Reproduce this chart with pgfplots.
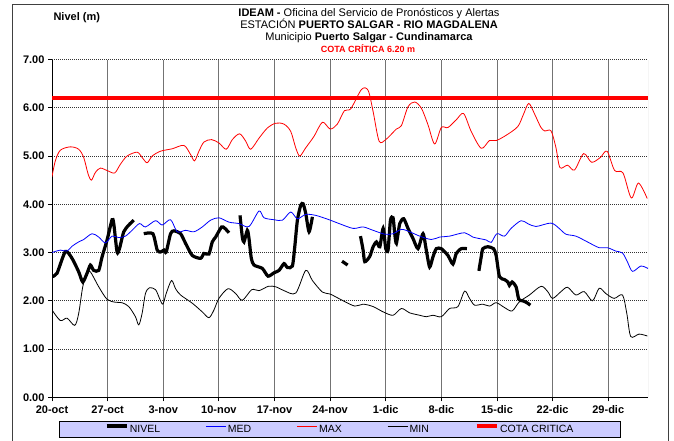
\documentclass[border=0pt]{standalone}
\usepackage{pgfplots}
\pgfplotsset{compat=1.18}
\usepackage{fontspec}
\setmainfont{Liberation Sans}
\definecolor{legbg}{RGB}{204,204,255}
\definecolor{myred}{RGB}{255,0,0}
\definecolor{myblue}{RGB}{0,0,255}
\begin{document}
\begin{tikzpicture}[x=1pt,y=1pt]
\useasboundingbox (0,0) rectangle (674,441);
\draw[black!75, line width=0.9pt] (12,-2) -- (12,437) -- (668,437) -- (668,-2);
\node[font=\fontsize{11}{13}\selectfont\bfseries, anchor=base west] at (50,441-20.8) {Nivel (m)};
\node[font=\fontsize{11}{13}\selectfont, anchor=base] at (369,441-17) {\textbf{IDEAM -} Oficina del Servicio de Pronósticos y Alertas};
\node[font=\fontsize{11}{13}\selectfont, anchor=base] at (369,441-28.5) {ESTACIÓN \textbf{PUERTO SALGAR - RIO MAGDALENA}};
\node[font=\fontsize{11}{13}\selectfont, anchor=base] at (369,441-41) {Municipio \textbf{Puerto Salgar - Cundinamarca}};
\node[font=\fontsize{9}{11}\selectfont\bfseries, text=myred, anchor=base] at (368,441-52.5) {COTA CRÍTICA 6.20 m};
\begin{axis}[
 at={(52pt,43.7pt)}, anchor=south west,
 width=596pt, height=337.8pt, scale only axis,
 xmin=0, xmax=75, ymin=0, ymax=7,
 axis x line*=bottom, axis y line*=left,
 axis line style={-, black, line width=0.8pt},
 xtick={0,7,...,70},
 xticklabels={20-oct,27-oct,3-nov,10-nov,17-nov,24-nov,1-dic,8-dic,15-dic,22-dic,29-dic},
 ytick={0,1,...,7},
 yticklabels={0.00,1.00,2.00,3.00,4.00,5.00,6.00,7.00},
 tick align=outside, major tick length=4pt,
 tick style={black, line width=0.8pt},
 ticklabel style={font=\fontsize{11}{12}\selectfont\bfseries},
 xticklabel style={yshift=-1pt},
 xmajorgrids, ymajorgrids,
 x grid style={black!55, line width=0.8pt},
 y grid style={black!80, line width=0.6pt, dash pattern=on 1pt off 1pt},
 legend columns=5,
 legend style={at={(0.4824,-0.0944)}, anchor=center, fill=legbg, draw=black, line width=0.8pt,
   font=\fontsize{10.5}{11}\selectfont, inner xsep=46pt, inner ysep=2.5pt,
   nodes={inner xsep=0.5pt, inner ysep=0.5pt},
   /tikz/every odd column/.append style={column sep=1pt},
   /tikz/every even column/.append style={column sep=45pt}},
 legend image code/.code={\draw[#1] (0pt,0.35em) -- (20pt,0.35em);},
]
% NIVEL
\addplot[black, line width=3.2pt, smooth, tension=0.4] coordinates {
(0,2.50)(0.63,2.57)(1.68,3.02)(2.52,2.88)(3.36,2.6)(3.87,2.39)(4.41,2.57)(4.83,2.74)(5.25,2.63)(5.88,2.63)(6.3,2.91)(6.93,3.26)(7.56,3.68)(7.77,3.6)(8.19,3.01)(8.49,3.08)(9.03,3.43)(9.66,3.57)(10.29,3.67)};
\addlegendentry{NIVEL}
\addplot[black, line width=3.2pt, smooth, tension=0.4, forget plot] coordinates {
(11.55,3.39)(12.69,3.39)(13.24,3.05)(13.66,3.01)(14.08,3.05)(14.37,3.01)(14.92,3.39)(15.34,3.45)(16.18,3.39)(16.81,3.19)(17.65,2.94)(18.7,2.88)(19.12,2.98)(19.75,2.97)(20.17,3.22)(20.59,3.32)(21.34,3.53)(21.76,3.5)(22.27,3.41)};
\addplot[black, line width=3.2pt, smooth, tension=0.4, forget plot] coordinates {
(23.66,3.77)(23.95,3.32)(24.16,3.22)(24.58,3.46)(24.79,3.29)(25.08,2.88)(25.42,2.74)(26.47,2.67)(27.18,2.51)(27.94,2.58)(28.57,2.63)(29.2,2.77)(29.62,2.69)(30.25,2.72)(30.55,3.12)(30.88,3.67)(31.3,3.98)(31.6,4.01)(31.93,3.81)(32.35,3.43)(32.77,3.74)};
\addplot[black, line width=3.2pt, forget plot] coordinates {(36.5,2.82)(37.2,2.74)};
\addplot[black, line width=3.2pt, smooth, tension=0.4, forget plot] coordinates {
(38.82,3.34)(39.15,3.05)(39.36,2.81)(39.99,2.92)(40.41,3.12)(40.83,3.22)(41.25,3.12)(41.67,3.5)(42,3.08)(42.29,3.05)(42.59,3.67)(42.92,3.72)(43.13,3.39)(43.34,3.19)(43.76,3.6)(44.26,3.70)(44.8,3.5)(45.43,3.29)(46.06,3.08)(46.69,3.39)(47.1,3.05)(47.52,2.70)(47.94,2.91)(48.36,3.08)(48.99,3.08)(49.82,2.94)(50.45,2.76)(50.87,2.98)(51.5,3.08)(52.21,3.08)};
\addplot[black, line width=3.2pt, smooth, tension=0.4, forget plot] coordinates {
(53.72,2.62)(54.01,2.91)(54.22,3.08)(54.85,3.12)(55.56,3.08)(55.89,2.94)(56.31,2.50)(56.94,2.44)(57.36,2.39)(57.56,2.32)(57.9,2.39)(58.4,2.29)(58.74,2.03)(59.24,2.00)(59.66,1.97)(60.2,1.91)};
% MED
\addplot[myblue, line width=0.8pt, smooth] coordinates {
(0,3.00)(1.05,3.05)(1.89,3.03)(2.52,3.13)(3.36,3.22)(3.99,3.27)(5.04,3.39)(5.88,3.32)(6.72,3.2)(7.56,3.34)(8.4,3.31)(9.24,3.34)(10.08,3.46)(11.01,3.6)(11.76,3.53)(13.03,3.66)(13.87,3.57)(14.92,3.68)(15.76,3.43)(16.81,3.46)(17.86,3.43)(18.91,3.53)(19.96,3.67)(21.01,3.72)(22.27,3.63)(23.53,3.6)(24.79,3.54)(26.05,3.86)(26.68,3.72)(27.94,3.68)(28.99,3.67)(30.04,3.84)(30.88,3.70)(31.93,3.79)(33.19,3.77)(34.87,3.68)(36.13,3.6)(37.9,3.5)(39.15,3.53)(40.41,3.46)(41.87,3.38)(42.92,3.39)(43.97,3.48)(45.01,3.43)(46.27,3.34)(47.73,3.27)(48.78,3.32)(50.03,3.34)(51.92,3.41)(52.96,3.32)(54.64,3.26)(55.27,3.21)(55.98,3.39)(56.94,3.34)(57.77,3.5)(59.02,3.66)(59.86,3.6)(60.9,3.54)(62.79,3.61)(63.82,3.5)(64.67,3.38)(65.92,3.34)(67.38,3.22)(68.85,3.1)(69.9,3.1)(70.95,3.03)(71.79,2.99)(72.4,2.81)(73.05,2.61)(74.1,2.72)(75,2.67)};
\addlegendentry{MED}
% MAX
\addplot[myred, line width=0.8pt, smooth] coordinates {
(0,4.57)(0.42,4.9)(1.05,5.12)(2.31,5.19)(3.36,5.14)(3.99,4.97)(4.54,4.63)(4.96,4.5)(5.46,4.66)(6.09,4.75)(7.06,4.69)(7.9,4.65)(8.61,4.83)(9.45,5.0)(10.71,5.08)(11.34,4.97)(11.97,4.86)(12.61,5.0)(13.66,5.1)(15.13,5.15)(16.6,5.22)(17.44,5.03)(17.94,4.9)(18.49,5.1)(19.12,5.29)(20.08,5.34)(21.01,5.27)(21.93,5.14)(22.69,5.34)(23.61,5.46)(24.37,5.31)(25.0,5.14)(26.05,5.37)(27.1,5.58)(28.15,5.68)(29.2,5.66)(30.04,5.51)(30.67,5.17)(31.18,5.0)(31.93,5.17)(32.98,5.41)(34.03,5.70)(35.0,5.56)(35.9,5.66)(36.8,5.94)(37.6,5.98)(38.95,6.38)(39.78,6.36)(40.41,5.92)(41.16,5.31)(42,5.34)(43.34,5.56)(43.97,5.63)(44.8,6.02)(45.64,6.12)(46.48,5.99)(47.31,5.65)(48.15,5.25)(48.99,5.59)(49.82,5.59)(50.87,5.75)(51.79,5.88)(52.75,5.51)(54.01,5.16)(55.05,5.32)(55.89,5.32)(57.15,5.43)(58.61,5.61)(59.32,5.86)(59.99,6.09)(60.7,5.88)(61.5,5.6)(62.0,5.52)(62.8,5.52)(63.42,5.17)(63.92,4.76)(64.88,4.81)(65.75,4.71)(66.9,5.05)(67.9,4.87)(69.0,4.97)(69.85,5.1)(70.8,4.7)(71.85,4.65)(72.9,4.13)(73.8,4.44)(74.9,4.12)};
\addlegendentry{MAX}
% MIN
\addplot[black, line width=0.8pt, smooth] coordinates {
(0,1.81)(1.05,1.59)(1.89,1.64)(2.86,1.49)(3.36,1.74)(3.87,2.29)(4.41,2.56)(4.83,2.6)(5.88,2.29)(6.93,2.03)(7.98,1.97)(8.82,1.96)(9.66,1.88)(10.5,1.67)(10.92,1.5)(11.34,1.74)(11.76,2.15)(12.27,2.27)(13.03,2.23)(13.53,2.05)(13.95,1.93)(14.37,2.15)(15.04,2.42)(15.55,2.25)(16.18,2.12)(17.65,1.95)(18.91,1.77)(19.75,1.65)(20.38,1.81)(21.01,2.05)(22.14,2.25)(23.11,2.15)(23.95,2.01)(25.13,2.23)(26.05,2.21)(27.23,2.3)(28.15,2.29)(29.2,2.21)(30.67,2.16)(31.93,2.63)(32.77,2.42)(34.03,2.18)(35.0,2.14)(36.64,2.0)(38.11,1.89)(39.15,1.93)(40.41,1.88)(41.67,1.77)(42.92,1.70)(43.97,1.84)(45.01,1.75)(46.27,1.70)(47.1,1.67)(47.94,1.70)(48.99,1.67)(50.03,1.84)(51.08,1.88)(51.92,2.2)(52.54,2.05)(53.17,1.91)(54.22,1.93)(55.06,1.89)(55.9,1.96)(56.94,1.86)(57.9,1.79)(58.82,1.98)(60.08,2.12)(61.54,2.30)(62.38,2.19)(63.0,2.05)(64.05,2.19)(64.88,2.28)(65.92,2.12)(66.97,2.19)(68.02,2.0)(68.86,2.26)(69.69,2.15)(70.74,2.05)(71.79,2.12)(72.33,1.74)(72.83,1.26)(73.88,1.31)(74.92,1.27)};
\addlegendentry{MIN}
% COTA
\addplot[myred, line width=4.3pt] coordinates {(0,6.2)(75,6.2)};
\addlegendentry{COTA CRITICA}
\draw[black!30, line width=0.8pt] (rel axis cs:1,0) -- (rel axis cs:1,1);
\end{axis}
\end{tikzpicture}
\end{document}
